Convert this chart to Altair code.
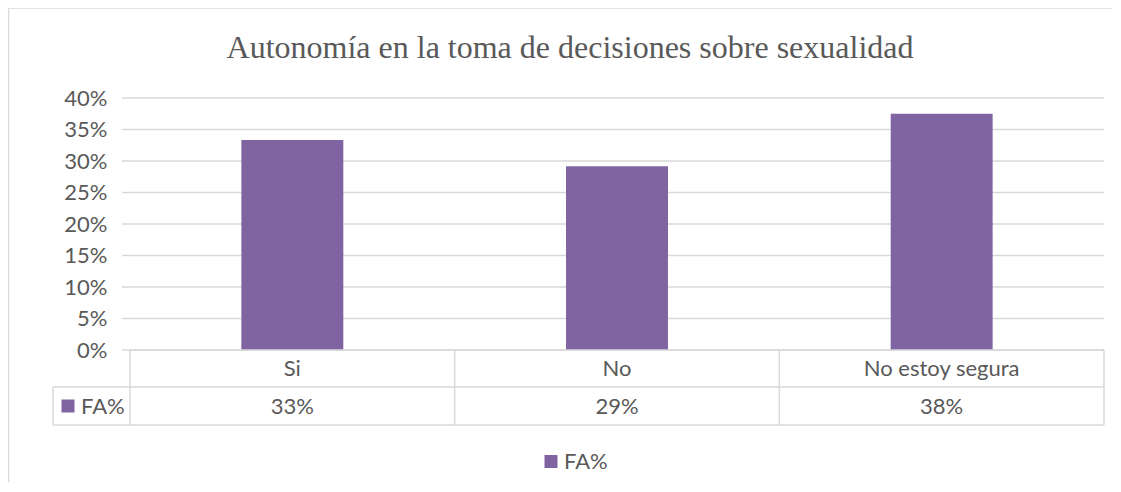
import altair as alt
import pandas as pd

# ---- data ----
title_text = "Autonomía en la toma de decisiones sobre sexualidad"
categories = ["Si", "No", "No estoy segura"]
values = [0.3333, 0.2917, 0.375]
value_labels = ["33%", "29%", "38%"]
series_name = "FA%"
y_ticks = [0, 0.05, 0.10, 0.15, 0.20, 0.25, 0.30, 0.35, 0.40]

# ---- styling ----
BAR = "#8064A2"
TXT = "#595959"
LINE = "#D9D9D9"
SANS = "Lato"
FS = 22
W, H = 974, 252

df = pd.DataFrame({"cat": categories, "val": values, "label": value_labels})
ticks_df = pd.DataFrame({"t": y_ticks})
one = pd.DataFrame({"a": [0]})

yscale = alt.Scale(domain=[0, 0.4], nice=False, zero=True)
yaxis = alt.Axis(format=".0%", values=y_ticks, domain=False, ticks=False,
                 grid=False, labelPadding=23, labelFont=SANS,
                 labelFontSize=FS, labelColor=TXT, title=None)
xenc = alt.X("cat:N", sort=categories, axis=None,
             scale=alt.Scale(paddingInner=0.686, paddingOuter=0.343))

grid = alt.Chart(ticks_df).mark_rule(color=LINE, strokeWidth=1.3).encode(
    y=alt.Y("t:Q", scale=yscale, axis=yaxis),
    x=alt.value(-8), x2=alt.value(W),
)

bars = alt.Chart(df).mark_bar(color=BAR).encode(
    x=xenc,
    y=alt.Y("val:Q", scale=yscale, axis=yaxis),
)

row1 = alt.Chart(df).mark_text(font=SANS, fontSize=FS, color=TXT, baseline="middle").encode(
    x=xenc, y=alt.value(271), text="cat:N")
row2 = alt.Chart(df).mark_text(font=SANS, fontSize=FS, color=TXT, baseline="middle").encode(
    x=xenc, y=alt.value(309), text="label:N")

layers = [grid, bars, row1, row2]

def rule(x1, y1, x2, y2, color=LINE, sw=1.5):
    return alt.Chart(one).mark_rule(color=color, strokeWidth=sw).encode(
        x=alt.value(x1), y=alt.value(y1), x2=alt.value(x2), y2=alt.value(y2))

# data table lines
for xv in [0, W / 3, 2 * W / 3, W]:
    layers.append(rule(xv, H, xv, 327))
layers.append(rule(-77, 289, W, 289))
layers.append(rule(-77, 327, W, 327))
layers.append(rule(-77, 289, -77, 327))
layers.append(rule(0, H, W, H))

# outer chart border (top & left)
layers.append(rule(-121.5, -90, W + 8, -90))
layers.append(rule(-121.5, -90, -121.5, 400))

# table legend key
layers.append(alt.Chart(one).mark_square(color=BAR, size=169, opacity=1).encode(
    x=alt.value(-62), y=alt.value(308)))
layers.append(alt.Chart(one).mark_text(font=SANS, fontSize=FS, color=TXT, align="left",
                                       baseline="middle", text=series_name).encode(
    x=alt.value(-49), y=alt.value(309)))

# bottom legend
layers.append(alt.Chart(one).mark_square(color=BAR, size=169, opacity=1).encode(
    x=alt.value(421), y=alt.value(363.5)))
layers.append(alt.Chart(one).mark_text(font=SANS, fontSize=FS, color=TXT, align="left",
                                       baseline="middle", text=series_name).encode(
    x=alt.value(434), y=alt.value(364)))

# title
layers.append(alt.Chart(one).mark_text(font="Liberation Serif", fontSize=32, color=TXT,
                                       align="center", baseline="alphabetic",
                                       text=title_text).encode(
    x=alt.value(440), y=alt.value(-40)))

chart = alt.layer(*layers).properties(
    width=W, height=H,
    autosize=alt.AutoSizeParams(type="none"),
    padding={"left": 122, "top": 90, "right": 8, "bottom": 132},
    background="white",
).configure_view(strokeWidth=0)

chart.save("out.html", embed_options={"renderer": "svg", "actions": False})
